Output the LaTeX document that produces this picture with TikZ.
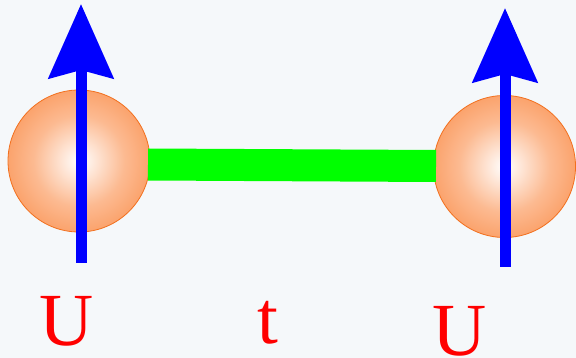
\documentclass[tikz,border=0pt]{standalone}
\usepackage{fontspec}
\setmainfont{Liberation Serif}
\usetikzlibrary{arrows.meta}
\definecolor{bgc}{RGB}{245,248,250}
\definecolor{ballc}{RGB}{250,140,72}
\definecolor{balledge}{RGB}{242,112,30}
\definecolor{bondc}{RGB}{0,255,0}
\definecolor{spinc}{RGB}{0,0,255}
\definecolor{labc}{RGB}{255,0,0}
\pgfdeclareradialshading{ballshade}{\pgfpoint{0bp}{0bp}}{color(0bp)=(white); color(16bp)=(ballc!60!white); color(34bp)=(ballc); color(50bp)=(ballc)}
\begin{document}
\begin{tikzpicture}[x=1pt,y=-1pt,
  site/.style={circle, minimum size=142pt, inner sep=0pt, shading=ballshade, draw=balledge, line width=0.8pt},
  bond/.style={draw=bondc, line width=32pt},
  spin/.style={draw=spinc, line width=11pt, -{Stealth[length=74pt 0, width=64pt 0, inset=8pt 0, fill=spinc]}},
  lab/.style={text=labc, font=\fontsize{75}{75}\selectfont, anchor=base, inner sep=0pt}]
\fill[bgc] (0,0) rectangle (576,358);
\useasboundingbox (0,0) rectangle (576,358);
\node[site] (L) at (79,161) {};
\node[site] (R) at (504.5,166.5) {};
\coordinate (b1) at (148,164.5);
\coordinate (b2) at (436,166);
\draw[bond] (b1) -- (b2);
\coordinate (la) at (81,263);
\coordinate (lt) at (81,4);
\coordinate (ra) at (505,267);
\coordinate (rt) at (505,8);
\draw[spin] (la) -- (lt);
\draw[spin] (ra) -- (rt);
\node[lab] (U1) at (67,345) {U};
\node[lab] (T) at (268,343) {t};
\node[lab] (U2) at (460,355) {U};
\end{tikzpicture}
\end{document}
